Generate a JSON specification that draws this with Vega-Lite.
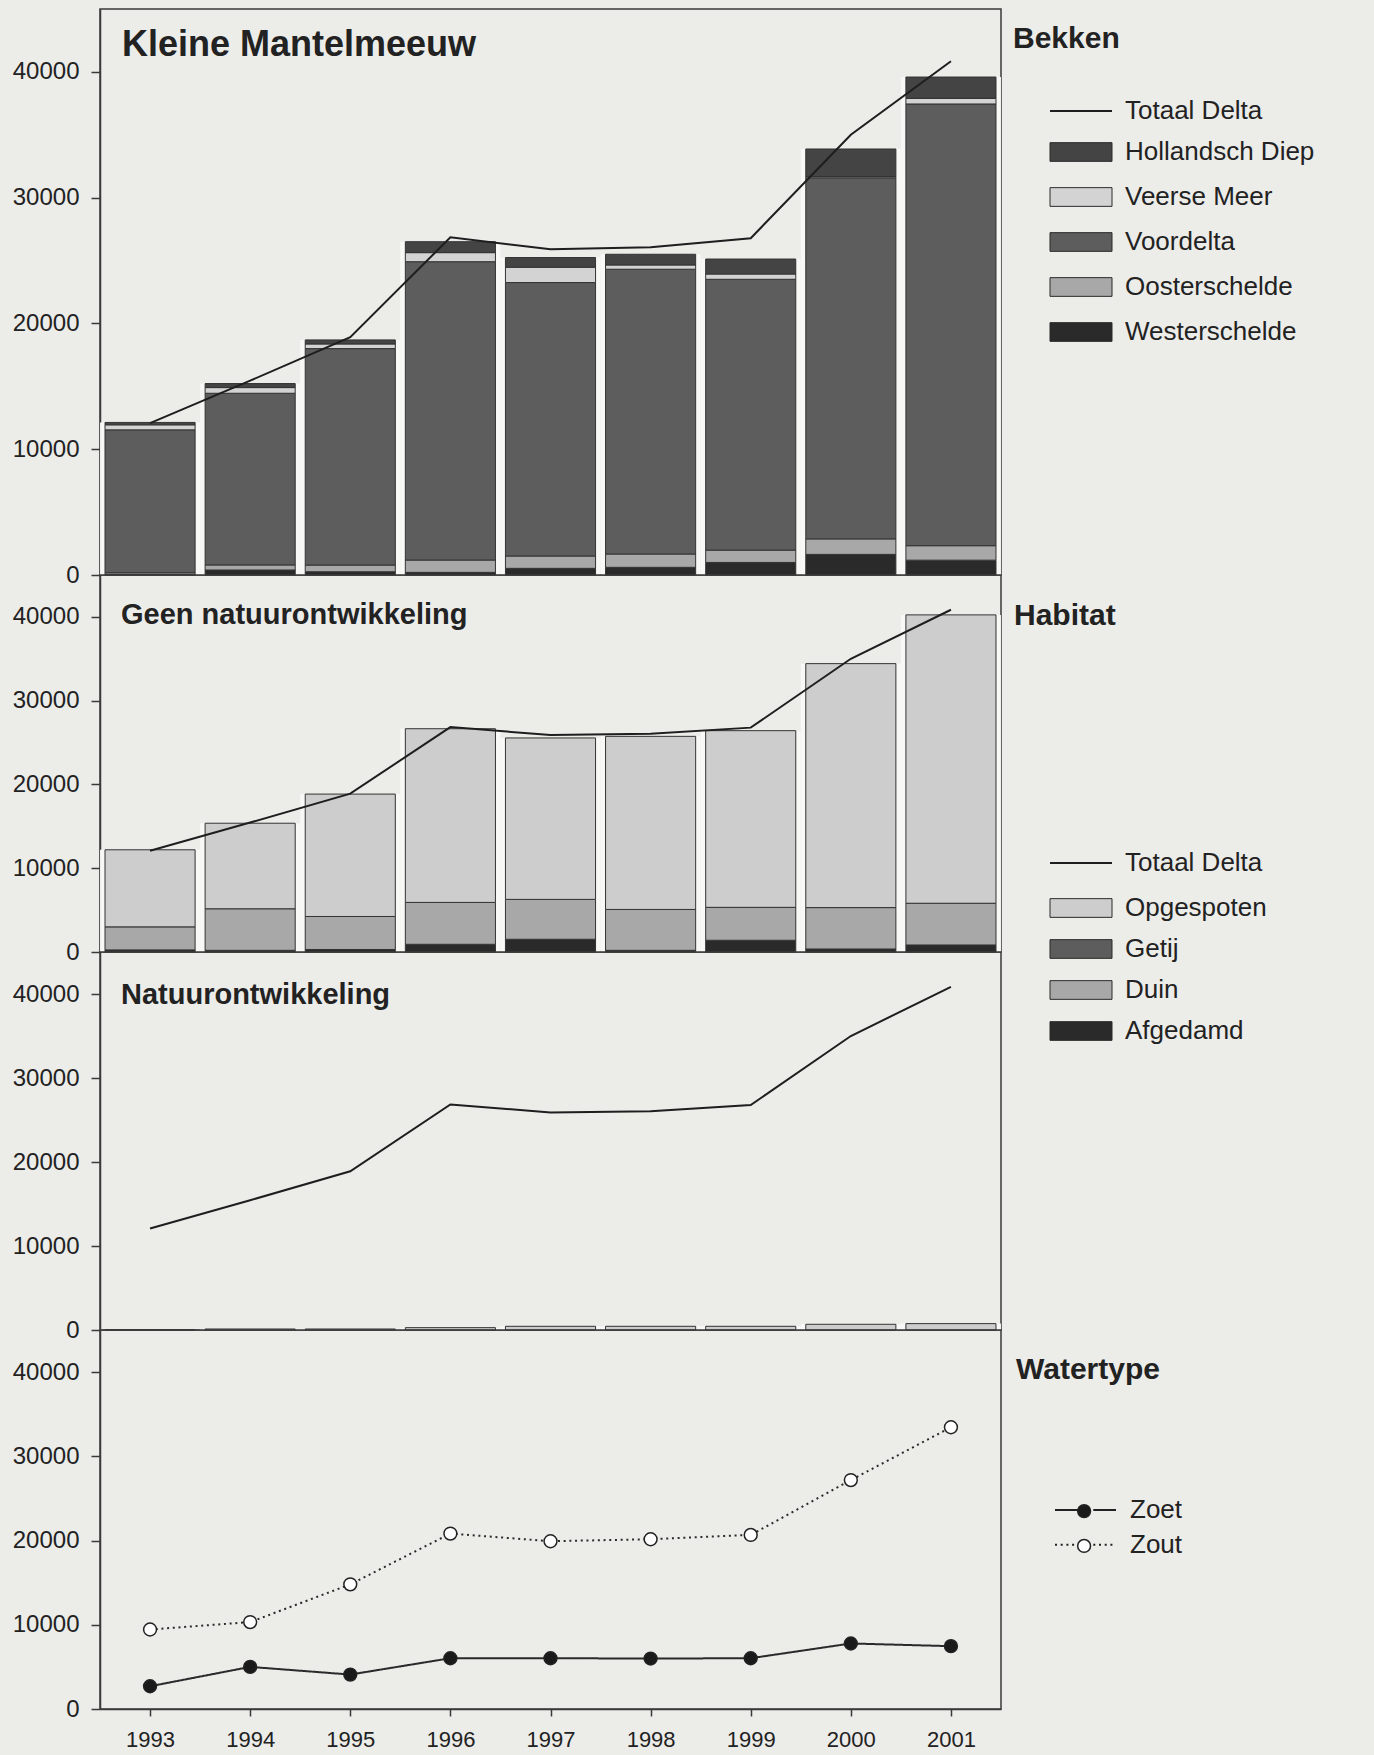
{
  "$schema": "https://vega.github.io/schema/vega-lite/v6.json",
  "background": "#ecece9",
  "padding": {"left": 11, "top": 8, "right": 0, "bottom": 0},
  "autosize": {"type": "pad"},
  "bounds": "flush",
  "spacing": 0,
  "columns": 2,
  "config": {
    "view": {"stroke": "#3a3a3a", "strokeWidth": 1.5, "fill": null},
    "axis": {"labelFont": "Liberation Sans", "labelFontSize": 24, "labelColor": "#222222", "domainColor": "#3a3a3a", "domainWidth": 1.5, "tickColor": "#3a3a3a", "tickWidth": 1.5, "grid": false},
    "title": {"font": "Liberation Sans", "fontWeight": "bold", "color": "#222222"},
    "legend": {"labelFont": "Liberation Sans", "labelFontSize": 26, "labelColor": "#222222", "padding": 0, "labelLimit": 400},
    "concat": {"spacing": 0}
  },
  "datasets": {
    "bekken": [
      {"jaar": "1993", "bekken": "Westerschelde", "k": 1, "aantal": 50},
      {"jaar": "1993", "bekken": "Oosterschelde", "k": 2, "aantal": 130},
      {"jaar": "1993", "bekken": "Voordelta", "k": 3, "aantal": 11360},
      {"jaar": "1993", "bekken": "Veerse Meer", "k": 4, "aantal": 400},
      {"jaar": "1993", "bekken": "Hollandsch Diep", "k": 5, "aantal": 190},
      {"jaar": "1994", "bekken": "Westerschelde", "k": 1, "aantal": 400},
      {"jaar": "1994", "bekken": "Oosterschelde", "k": 2, "aantal": 400},
      {"jaar": "1994", "bekken": "Voordelta", "k": 3, "aantal": 13650},
      {"jaar": "1994", "bekken": "Veerse Meer", "k": 4, "aantal": 450},
      {"jaar": "1994", "bekken": "Hollandsch Diep", "k": 5, "aantal": 320},
      {"jaar": "1995", "bekken": "Westerschelde", "k": 1, "aantal": 260},
      {"jaar": "1995", "bekken": "Oosterschelde", "k": 2, "aantal": 530},
      {"jaar": "1995", "bekken": "Voordelta", "k": 3, "aantal": 17210},
      {"jaar": "1995", "bekken": "Veerse Meer", "k": 4, "aantal": 370},
      {"jaar": "1995", "bekken": "Hollandsch Diep", "k": 5, "aantal": 320},
      {"jaar": "1996", "bekken": "Westerschelde", "k": 1, "aantal": 210},
      {"jaar": "1996", "bekken": "Oosterschelde", "k": 2, "aantal": 980},
      {"jaar": "1996", "bekken": "Voordelta", "k": 3, "aantal": 23720},
      {"jaar": "1996", "bekken": "Veerse Meer", "k": 4, "aantal": 720},
      {"jaar": "1996", "bekken": "Hollandsch Diep", "k": 5, "aantal": 870},
      {"jaar": "1997", "bekken": "Westerschelde", "k": 1, "aantal": 530},
      {"jaar": "1997", "bekken": "Oosterschelde", "k": 2, "aantal": 980},
      {"jaar": "1997", "bekken": "Voordelta", "k": 3, "aantal": 21740},
      {"jaar": "1997", "bekken": "Veerse Meer", "k": 4, "aantal": 1220},
      {"jaar": "1997", "bekken": "Hollandsch Diep", "k": 5, "aantal": 770},
      {"jaar": "1998", "bekken": "Westerschelde", "k": 1, "aantal": 610},
      {"jaar": "1998", "bekken": "Oosterschelde", "k": 2, "aantal": 1060},
      {"jaar": "1998", "bekken": "Voordelta", "k": 3, "aantal": 22640},
      {"jaar": "1998", "bekken": "Veerse Meer", "k": 4, "aantal": 340},
      {"jaar": "1998", "bekken": "Hollandsch Diep", "k": 5, "aantal": 850},
      {"jaar": "1999", "bekken": "Westerschelde", "k": 1, "aantal": 1000},
      {"jaar": "1999", "bekken": "Oosterschelde", "k": 2, "aantal": 980},
      {"jaar": "1999", "bekken": "Voordelta", "k": 3, "aantal": 21530},
      {"jaar": "1999", "bekken": "Veerse Meer", "k": 4, "aantal": 420},
      {"jaar": "1999", "bekken": "Hollandsch Diep", "k": 5, "aantal": 1190},
      {"jaar": "2000", "bekken": "Westerschelde", "k": 1, "aantal": 1640},
      {"jaar": "2000", "bekken": "Oosterschelde", "k": 2, "aantal": 1230},
      {"jaar": "2000", "bekken": "Voordelta", "k": 3, "aantal": 28710},
      {"jaar": "2000", "bekken": "Veerse Meer", "k": 4, "aantal": 100},
      {"jaar": "2000", "bekken": "Hollandsch Diep", "k": 5, "aantal": 2190},
      {"jaar": "2001", "bekken": "Westerschelde", "k": 1, "aantal": 1180},
      {"jaar": "2001", "bekken": "Oosterschelde", "k": 2, "aantal": 1150},
      {"jaar": "2001", "bekken": "Voordelta", "k": 3, "aantal": 35120},
      {"jaar": "2001", "bekken": "Veerse Meer", "k": 4, "aantal": 440},
      {"jaar": "2001", "bekken": "Hollandsch Diep", "k": 5, "aantal": 1700}
    ],
    "habitat": [
      {"jaar": "1993", "habitat": "Afgedamd", "k": 1, "aantal": 250},
      {"jaar": "1993", "habitat": "Duin", "k": 2, "aantal": 2750},
      {"jaar": "1993", "habitat": "Opgespoten", "k": 3, "aantal": 9200},
      {"jaar": "1994", "habitat": "Afgedamd", "k": 1, "aantal": 200},
      {"jaar": "1994", "habitat": "Duin", "k": 2, "aantal": 4960},
      {"jaar": "1994", "habitat": "Opgespoten", "k": 3, "aantal": 10210},
      {"jaar": "1995", "habitat": "Afgedamd", "k": 1, "aantal": 300},
      {"jaar": "1995", "habitat": "Duin", "k": 2, "aantal": 3940},
      {"jaar": "1995", "habitat": "Opgespoten", "k": 3, "aantal": 14610},
      {"jaar": "1996", "habitat": "Afgedamd", "k": 1, "aantal": 920},
      {"jaar": "1996", "habitat": "Duin", "k": 2, "aantal": 5000},
      {"jaar": "1996", "habitat": "Opgespoten", "k": 3, "aantal": 20730},
      {"jaar": "1997", "habitat": "Afgedamd", "k": 1, "aantal": 1520},
      {"jaar": "1997", "habitat": "Duin", "k": 2, "aantal": 4760},
      {"jaar": "1997", "habitat": "Opgespoten", "k": 3, "aantal": 19270},
      {"jaar": "1998", "habitat": "Afgedamd", "k": 1, "aantal": 200},
      {"jaar": "1998", "habitat": "Duin", "k": 2, "aantal": 4880},
      {"jaar": "1998", "habitat": "Opgespoten", "k": 3, "aantal": 20660},
      {"jaar": "1999", "habitat": "Afgedamd", "k": 1, "aantal": 1400},
      {"jaar": "1999", "habitat": "Duin", "k": 2, "aantal": 3930},
      {"jaar": "1999", "habitat": "Opgespoten", "k": 3, "aantal": 21090},
      {"jaar": "2000", "habitat": "Afgedamd", "k": 1, "aantal": 360},
      {"jaar": "2000", "habitat": "Duin", "k": 2, "aantal": 4940},
      {"jaar": "2000", "habitat": "Opgespoten", "k": 3, "aantal": 29120},
      {"jaar": "2001", "habitat": "Afgedamd", "k": 1, "aantal": 840},
      {"jaar": "2001", "habitat": "Duin", "k": 2, "aantal": 4980},
      {"jaar": "2001", "habitat": "Opgespoten", "k": 3, "aantal": 34420}
    ],
    "natuur": [
      {"jaar": "1993", "aantal": 40},
      {"jaar": "1994", "aantal": 120},
      {"jaar": "1995", "aantal": 120},
      {"jaar": "1996", "aantal": 280},
      {"jaar": "1997", "aantal": 440},
      {"jaar": "1998", "aantal": 440},
      {"jaar": "1999", "aantal": 440},
      {"jaar": "2000", "aantal": 680},
      {"jaar": "2001", "aantal": 760}
    ],
    "totaal": [
      {"jaar": "1993", "aantal": 12080},
      {"jaar": "1994", "aantal": 15450},
      {"jaar": "1995", "aantal": 18900},
      {"jaar": "1996", "aantal": 26850},
      {"jaar": "1997", "aantal": 25900},
      {"jaar": "1998", "aantal": 26050},
      {"jaar": "1999", "aantal": 26780},
      {"jaar": "2000", "aantal": 35000},
      {"jaar": "2001", "aantal": 40850}
    ],
    "water": [
      {"jaar": "1993", "type": "Zoet", "aantal": 2700},
      {"jaar": "1994", "type": "Zoet", "aantal": 5000},
      {"jaar": "1995", "type": "Zoet", "aantal": 4090},
      {"jaar": "1996", "type": "Zoet", "aantal": 6030},
      {"jaar": "1997", "type": "Zoet", "aantal": 6030},
      {"jaar": "1998", "type": "Zoet", "aantal": 5990},
      {"jaar": "1999", "type": "Zoet", "aantal": 6030},
      {"jaar": "2000", "type": "Zoet", "aantal": 7780},
      {"jaar": "2001", "type": "Zoet", "aantal": 7460},
      {"jaar": "1993", "type": "Zout", "aantal": 9440},
      {"jaar": "1994", "type": "Zout", "aantal": 10320},
      {"jaar": "1995", "type": "Zout", "aantal": 14800},
      {"jaar": "1996", "type": "Zout", "aantal": 20830},
      {"jaar": "1997", "type": "Zout", "aantal": 19920},
      {"jaar": "1998", "type": "Zout", "aantal": 20160},
      {"jaar": "1999", "type": "Zout", "aantal": 20670},
      {"jaar": "2000", "type": "Zout", "aantal": 27180},
      {"jaar": "2001", "type": "Zout", "aantal": 33450}
    ]
  },
  "resolve": {
    "scale": {"x": "independent", "y": "independent", "color": "independent", "fill": "independent", "stroke": "independent", "strokeDash": "independent"},
    "legend": {"color": "independent", "fill": "independent", "stroke": "independent", "strokeDash": "independent"}
  },
  "concat": [
    {
      "width": 901,
      "height": 566,
      "title": {"text": "Kleine Mantelmeeuw", "anchor": "start", "frame": "group", "offset": -83, "baseline": "alphabetic", "dx": 22, "fontSize": 36},
      "layer": [
        {
          "data": {"name": "bekken"},
          "mark": {"type": "bar", "fill": "#f8f8f6", "width": {"band": 1.11}},
          "encoding": {
            "x": {"field": "jaar", "type": "ordinal", "scale": {"paddingInner": 0.1, "paddingOuter": 0.05}, "axis": null},
            "y": {"aggregate": "sum", "field": "aantal", "type": "quantitative", "title": null, "scale": {"domain": [0, 45000], "nice": false}, "axis": {"values": [0, 10000, 20000, 30000, 40000], "tickSize": 9, "labelPadding": 12, "format": "d", "title": null}}
          }
        },
        {
          "data": {"name": "bekken"},
          "mark": {"type": "bar", "stroke": "#333333", "strokeWidth": 1},
          "encoding": {
            "x": {"field": "jaar", "type": "ordinal", "axis": null},
            "y": {"field": "aantal", "type": "quantitative", "stack": "zero", "title": null},
            "order": {"field": "k", "type": "quantitative"},
            "color": {
              "field": "bekken", "type": "nominal",
              "scale": {"domain": ["Hollandsch Diep", "Veerse Meer", "Voordelta", "Oosterschelde", "Westerschelde"], "range": ["#444444", "#d3d3d3", "#5d5d5d", "#a8a8a8", "#2a2a2a"]},
              "legend": {
                "orient": "none", "legendX": 968, "legendY": 130, "title": null,
                "symbolSize": 400, "labelOffset": 31, "rowPadding": 19, "labelFontSize": 26,
                "symbolType": "M-3.1,-0.935H3.1V0.935H-3.1Z",
                "symbolStrokeColor": "#2a2a2a", "symbolStrokeWidth": 1
              }
            }
          }
        },
        {
          "data": {"name": "totaal"},
          "mark": {"type": "line", "strokeWidth": 2},
          "encoding": {
            "x": {"field": "jaar", "type": "ordinal", "axis": null},
            "y": {"field": "aantal", "type": "quantitative", "title": null},
            "stroke": {
              "datum": "Totaal Delta", "type": "nominal",
              "scale": {"domain": ["Totaal Delta"], "range": ["#1e1e1e"]},
              "legend": {
                "orient": "none", "legendX": 968, "legendY": 89, "title": null,
                "symbolSize": 400, "labelOffset": 31, "labelFontSize": 26,
                "symbolType": "M-3.1,0H3.1", "symbolStrokeWidth": 2
              }
            }
          }
        }
      ]
    },
    {
      "width": 376,
      "height": 566,
      "title": {"text": "Bekken", "anchor": "start", "frame": "group", "offset": -69, "baseline": "alphabetic", "dx": 12, "fontSize": 30},
      "data": {"values": [{"a": 1}]},
      "mark": {"type": "text", "text": ""},
      "encoding": {}
    },
    {
      "width": 901,
      "height": 377,
      "title": {"text": "Geen natuurontwikkeling", "anchor": "start", "frame": "group", "offset": -78, "baseline": "alphabetic", "dx": 21, "fontSize": 29},
      "layer": [
        {
          "data": {"name": "habitat"},
          "mark": {"type": "bar", "fill": "#f8f8f6", "width": {"band": 1.11}},
          "encoding": {
            "x": {"field": "jaar", "type": "ordinal", "scale": {"paddingInner": 0.1, "paddingOuter": 0.05}, "axis": null},
            "y": {"aggregate": "sum", "field": "aantal", "type": "quantitative", "title": null, "scale": {"domain": [0, 45000], "nice": false}, "axis": {"values": [0, 10000, 20000, 30000, 40000], "tickSize": 9, "labelPadding": 12, "format": "d", "title": null}}
          }
        },
        {
          "data": {"name": "habitat"},
          "mark": {"type": "bar", "stroke": "#333333", "strokeWidth": 1},
          "encoding": {
            "x": {"field": "jaar", "type": "ordinal", "axis": null},
            "y": {"field": "aantal", "type": "quantitative", "stack": "zero", "title": null},
            "order": {"field": "k", "type": "quantitative"},
            "color": {
              "field": "habitat", "type": "nominal",
              "scale": {"domain": ["Opgespoten", "Getij", "Duin", "Afgedamd"], "range": ["#cdcdcd", "#5d5d5d", "#a8a8a8", "#2a2a2a"]},
              "legend": {
                "orient": "none", "legendX": 968, "legendY": 320, "title": null,
                "symbolSize": 400, "labelOffset": 31, "rowPadding": 15, "labelFontSize": 26,
                "symbolType": "M-3.1,-0.935H3.1V0.935H-3.1Z",
                "symbolStrokeColor": "#2a2a2a", "symbolStrokeWidth": 1
              }
            }
          }
        },
        {
          "data": {"name": "totaal"},
          "mark": {"type": "line", "strokeWidth": 2},
          "encoding": {
            "x": {"field": "jaar", "type": "ordinal", "axis": null},
            "y": {"field": "aantal", "type": "quantitative", "title": null},
            "stroke": {
              "datum": "Totaal Delta", "type": "nominal",
              "scale": {"domain": ["Totaal Delta"], "range": ["#1e1e1e"]},
              "legend": {
                "orient": "none", "legendX": 968, "legendY": 275, "title": null,
                "symbolSize": 400, "labelOffset": 31, "labelFontSize": 26,
                "symbolType": "M-3.1,0H3.1", "symbolStrokeWidth": 2
              }
            }
          }
        }
      ]
    },
    {
      "width": 376,
      "height": 377,
      "view": {"stroke": null},
      "title": {"text": "Habitat", "anchor": "start", "frame": "group", "offset": -80, "baseline": "alphabetic", "dx": 13, "fontSize": 30},
      "data": {"values": [{"a": 1}]},
      "mark": {"type": "text", "text": ""},
      "encoding": {}
    },
    {
      "width": 901,
      "height": 378,
      "title": {"text": "Natuurontwikkeling", "anchor": "start", "frame": "group", "offset": -81, "baseline": "alphabetic", "dx": 21, "fontSize": 29},
      "layer": [
        {
          "data": {"name": "natuur"},
          "mark": {"type": "bar", "fill": "#f8f8f6", "width": {"band": 1.11}},
          "encoding": {
            "x": {"field": "jaar", "type": "ordinal", "scale": {"paddingInner": 0.1, "paddingOuter": 0.05}, "axis": null},
            "y": {"field": "aantal", "type": "quantitative", "title": null, "scale": {"domain": [0, 45000], "nice": false}, "axis": {"values": [0, 10000, 20000, 30000, 40000], "tickSize": 9, "labelPadding": 12, "format": "d", "title": null}}
          }
        },
        {
          "data": {"name": "natuur"},
          "mark": {"type": "bar", "fill": "#cdcdcd", "stroke": "#333333", "strokeWidth": 1},
          "encoding": {
            "x": {"field": "jaar", "type": "ordinal", "axis": null},
            "y": {"field": "aantal", "type": "quantitative", "title": null}
          }
        },
        {
          "data": {"name": "totaal"},
          "mark": {"type": "line", "color": "#1e1e1e", "strokeWidth": 2},
          "encoding": {
            "x": {"field": "jaar", "type": "ordinal", "axis": null},
            "y": {"field": "aantal", "type": "quantitative", "title": null}
          }
        }
      ]
    },
    {
      "width": 376,
      "height": 378,
      "view": {"stroke": null},
      "data": {"values": [{"a": 1}]},
      "mark": {"type": "text", "text": ""},
      "encoding": {}
    },
    {
      "width": 901,
      "height": 379,
      "data": {"name": "water"},
      "layer": [
        {
          "mark": {"type": "line", "strokeWidth": 2, "color": "#2a2a2a"},
          "encoding": {
            "x": {"field": "jaar", "type": "ordinal", "scale": {"paddingInner": 0.1, "paddingOuter": 0.05}, "axis": {"labelFontSize": 22, "tickSize": 7, "labelPadding": 13, "labelAngle": 0, "title": null}},
            "y": {"field": "aantal", "type": "quantitative", "title": null, "scale": {"domain": [0, 45000], "nice": false}, "axis": {"values": [0, 10000, 20000, 30000, 40000], "tickSize": 9, "labelPadding": 12, "format": "d", "title": null}},
            "strokeDash": {
              "field": "type", "type": "nominal",
              "scale": {"range": [[1, 0], [2, 3.7]]},
              "legend": {
                "orient": "none", "legendX": 973, "legendY": 167, "title": null,
                "symbolSize": 400, "labelOffset": 31, "rowPadding": 8.7, "labelFontSize": 26,
                "symbolType": "M-3.1,0H-0.73M0.73,0H3", "symbolStrokeColor": "#222222", "symbolStrokeWidth": 2
              }
            }
          }
        },
        {
          "mark": {"type": "point", "shape": "circle", "filled": true, "size": 165, "stroke": "#222222", "strokeWidth": 1.5, "opacity": 1},
          "encoding": {
            "x": {"field": "jaar", "type": "ordinal"},
            "y": {"field": "aantal", "type": "quantitative", "title": null},
            "fill": {
              "field": "type", "type": "nominal",
              "scale": {"domain": ["Zoet", "Zout"], "range": ["#1a1a1a", "#ffffff"]},
              "legend": {
                "orient": "none", "legendX": 976.6, "legendY": 173.6, "title": null,
                "symbolType": "circle", "symbolSize": 165,
                "symbolStrokeColor": "#222222", "symbolStrokeWidth": 1.5, "symbolOpacity": 1,
                "labelExpr": "''", "labelFontSize": 1, "rowPadding": 15.8
              }
            }
          }
        }
      ]
    },
    {
      "width": 376,
      "height": 425,
      "title": {"text": "Watertype", "anchor": "start", "frame": "group", "offset": -79, "baseline": "alphabetic", "dx": 15, "fontSize": 30},
      "data": {"values": [{"a": 1}]},
      "mark": {"type": "text", "text": ""},
      "encoding": {}
    }
  ]
}
